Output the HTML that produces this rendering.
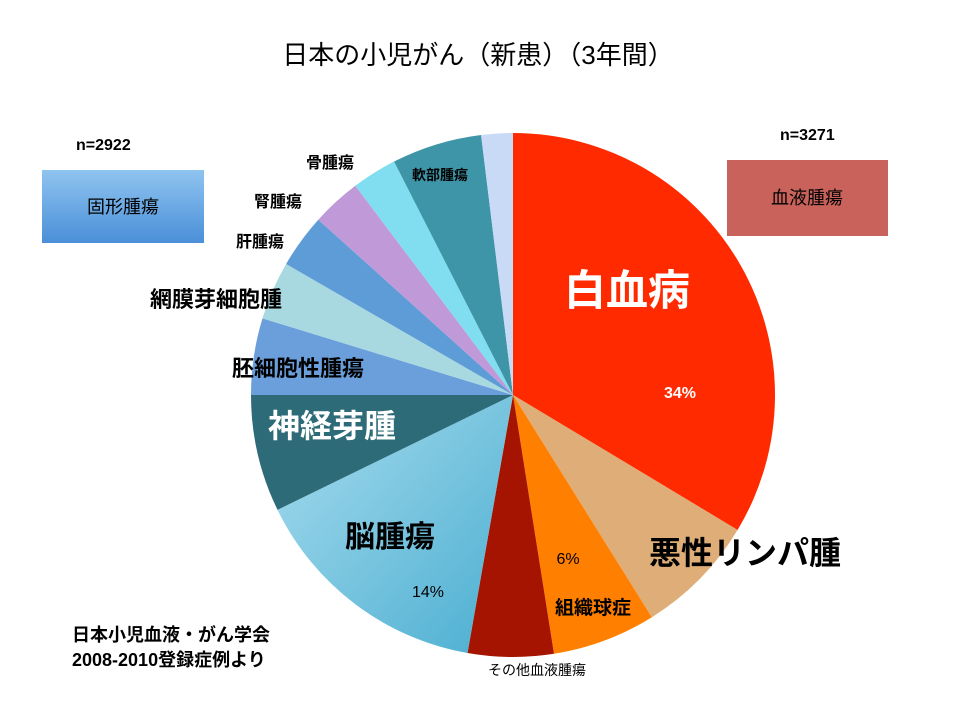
<!DOCTYPE html><html><head><meta charset="utf-8"><style>
body{margin:0;background:#fff;}
svg text{font-family:"Liberation Sans","Noto Sans CJK JP",sans-serif;}
.b{font-weight:bold;}
</style></head><body>
<svg id="s" width="960" height="720" xmlns="http://www.w3.org/2000/svg">
<defs>
<linearGradient id="gb" x1="0" y1="0" x2="0" y2="1"><stop offset="0" stop-color="#8fc4f0"/><stop offset="1" stop-color="#4a8fd8"/></linearGradient>
<linearGradient id="gl" x1="0" y1="0" x2="1" y2="1"><stop offset="0" stop-color="#a8dcef"/><stop offset="1" stop-color="#4aaed0"/></linearGradient>
</defs>
<g id="pie"></g>
<text x="478" y="64" font-size="26" text-anchor="middle">日本の小児がん（新患）（3年間）</text>
<text x="76" y="150" font-size="16" class="b">n=2922</text>
<text x="780" y="140" font-size="16" class="b">n=3271</text>
<rect x="42" y="170" width="162" height="73" fill="url(#gb)"/>
<text x="123" y="213" font-size="18" text-anchor="middle">固形腫瘍</text>
<rect x="727" y="160" width="161" height="76" fill="#c8625a"/>
<text x="807" y="204" font-size="18" text-anchor="middle">血液腫瘍</text>
<text x="627" y="305" font-size="42" fill="#fff" text-anchor="middle" class="b">白血病</text>
<text x="680" y="398" font-size="16" fill="#fff" text-anchor="middle" class="b">34%</text>
<text x="745" y="564" font-size="32" text-anchor="middle" class="b">悪性リンパ腫</text>
<text x="568" y="564" font-size="16" text-anchor="middle">6%</text>
<text x="593" y="614" font-size="19" text-anchor="middle" class="b">組織球症</text>
<text x="537" y="675" font-size="14" text-anchor="middle">その他血液腫瘍</text>
<text x="390" y="547" font-size="30" text-anchor="middle" class="b">脳腫瘍</text>
<text x="428" y="597" font-size="16" text-anchor="middle">14%</text>
<text x="332" y="437" font-size="32" fill="#fff" text-anchor="middle" class="b">神経芽腫</text>
<text x="298" y="376" font-size="22" text-anchor="middle" class="b">胚細胞性腫瘍</text>
<text x="216" y="307" font-size="22" text-anchor="middle" class="b">網膜芽細胞腫</text>
<text x="260" y="247" font-size="16" text-anchor="middle" class="b">肝腫瘍</text>
<text x="278" y="207" font-size="16" text-anchor="middle" class="b">腎腫瘍</text>
<text x="330" y="168" font-size="16" text-anchor="middle" class="b">骨腫瘍</text>
<text x="440" y="180" font-size="14" text-anchor="middle" class="b">軟部腫瘍</text>
<text x="72" y="641" font-size="18" class="b">日本小児血液・がん学会</text>
<text x="72" y="666" font-size="18" class="b">2008-2010登録症例より</text>
</svg>
<script>
var cx=513,cy=395,r=262;
var b=[0,121,148,171,190,244,270,287,300,312,323,333,353,360];
var c=["#ff2a00","#dfae78","#ff7f00","#a51400","url(#gl)","#2e6b78","#6a9fdc","#a8d8e0","#5e9cd8","#c09ad8","#80def0","#3f95a8","#c8daf5"];
var g=document.getElementById("pie"),h="";
function p(a){a=a*Math.PI/180;return (cx+r*Math.sin(a)).toFixed(2)+","+(cy-r*Math.cos(a)).toFixed(2);}
for(var i=0;i<c.length;i++){var l=b[i+1]-b[i]>180?1:0;
h+='<path d="M'+cx+','+cy+' L'+p(b[i])+' A'+r+','+r+' 0 '+l+' 1 '+p(b[i+1])+' Z" fill="'+c[i]+'"/>';}
g.innerHTML=h;
</script>
</body></html>
